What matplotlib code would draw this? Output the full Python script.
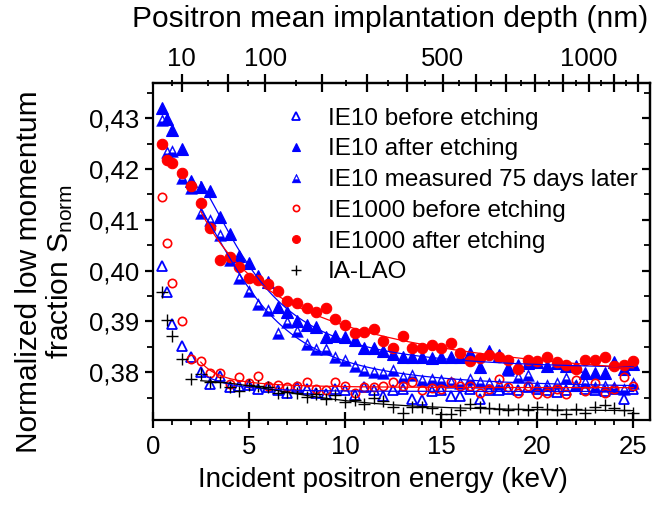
import numpy as np
import matplotlib
matplotlib.use("Agg")
import matplotlib.pyplot as plt
from matplotlib.path import Path
from matplotlib.ticker import FixedLocator, MultipleLocator, FuncFormatter

plt.rcParams['font.family'] = ['Liberation Sans', 'DejaVu Sans']
plt.rcParams['mathtext.fontset'] = 'custom'
plt.rcParams['mathtext.rm'] = 'Liberation Sans'
plt.rcParams['mathtext.it'] = 'Liberation Sans'

energy = [0.5, 0.75, 1.0, 1.5, 2.0, 2.5, 3.0, 3.5, 4.0, 4.5,
          5.0, 5.5, 6.0, 6.5, 7.0, 7.5, 8.0, 8.5, 9.0, 9.5,
          10.0, 10.5, 11.0, 11.5, 12.0, 12.5, 13.0, 13.5, 14.0, 14.5,
          15.0, 15.5, 16.0, 16.5, 17.0, 17.5, 18.0, 18.5, 19.0, 19.5,
          20.0, 20.5, 21.0, 21.5, 22.0, 22.5, 23.0, 23.5, 24.0, 24.5,
          25.0]

ie10_before = [0.4010, 0.3957, 0.3895, 0.3852, 0.3830, 0.3800, 0.3777, 0.3793, 0.3770, 0.3772,
               0.3775, 0.3768, 0.3770, 0.3765, 0.3759, 0.3770, 0.3768, 0.3760, 0.3757, 0.3768,
               0.3765, 0.3755, 0.3770, 0.3765, 0.3753, 0.3766, 0.3768, 0.3747, 0.3745, 0.3764,
               0.3766, 0.3753, 0.3753, 0.3768, 0.3747, 0.3766, 0.3765, 0.3767, 0.3765, 0.3770,
               0.3768, 0.3765, 0.3762, 0.3766, 0.3772, 0.3768, 0.3766, 0.3764, 0.3768, 0.3747,
               0.3768]

ie10_after = [0.4320, 0.4298, 0.4277, 0.4240, 0.4177, 0.4164, 0.4157, 0.4106, 0.4072, 0.4028,
              0.4015, 0.3990, 0.3978, 0.3929, 0.3918, 0.3900, 0.3893, 0.3890, 0.3870, 0.3871,
              0.3870, 0.3864, 0.3847, 0.3847, 0.3841, 0.3836, 0.3831, 0.3831, 0.3831, 0.3829,
              0.3831, 0.3831, 0.3830, 0.3837, 0.3810, 0.3841, 0.3833, 0.3808, 0.3814, 0.3818,
              0.3820, 0.3812, 0.3818, 0.3812, 0.3812, 0.3798, 0.3798, 0.3798, 0.3821, 0.3806,
              0.3816]

ie10_75days = [0.4297, 0.4234, 0.4236, 0.4182, 0.4163, 0.4114, 0.4100, 0.4070, 0.4021, 0.3985,
               0.3960, 0.3935, 0.3923, 0.3877, 0.3898, 0.3881, 0.3855, 0.3846, 0.3846, 0.3831,
               0.3824, 0.3812, 0.3805, 0.3800, 0.3798, 0.3805, 0.3791, 0.3795, 0.3784, 0.3787,
               0.3784, 0.3780, 0.3778, 0.3786, 0.3781, 0.3778, 0.3776, 0.3805, 0.3791, 0.3795,
               0.3773, 0.3775, 0.3778, 0.3788, 0.3775, 0.3780, 0.3770, 0.3773, 0.3770, 0.3768,
               0.3778]

ie1000_before = [0.4144, 0.4054, 0.3976, 0.3901, 0.3826, 0.3822, 0.3799, 0.3799, 0.3777, 0.3790,
                 0.3778, 0.3793, 0.3773, 0.3775, 0.3770, 0.3772, 0.3780, 0.3767, 0.3765, 0.3780,
                 0.3772, 0.3759, 0.3770, 0.3770, 0.3772, 0.3780, 0.3773, 0.3780, 0.3765, 0.3769,
                 0.3767, 0.3781, 0.3773, 0.3772, 0.3760, 0.3767, 0.3787, 0.3770, 0.3760, 0.3772,
                 0.3757, 0.3760, 0.3767, 0.3757, 0.3785, 0.3763, 0.3778, 0.3760, 0.3767, 0.3791,
                 0.3773]

ie1000_after = [0.4249, 0.4218, 0.4211, 0.4192, 0.4167, 0.4134, 0.4083, 0.4020, 0.4027, 0.4008,
                0.3986, 0.3982, 0.3974, 0.3960, 0.3941, 0.3937, 0.3927, 0.3918, 0.3927, 0.3904,
                0.3893, 0.3878, 0.3880, 0.3885, 0.3862, 0.3847, 0.3871, 0.3847, 0.3847, 0.3853,
                0.3847, 0.3857, 0.3837, 0.3822, 0.3829, 0.3833, 0.3831, 0.3824, 0.3806, 0.3824,
                0.3823, 0.3831, 0.3821, 0.3814, 0.3806, 0.3824, 0.3824, 0.3830, 0.3812, 0.3814,
                0.3823]

ia_lao = [0.3957, 0.3903, 0.3871, 0.3826, 0.3787, 0.3796, 0.3781, 0.3781, 0.3770, 0.3763,
          0.3775, 0.3772, 0.3770, 0.3759, 0.3762, 0.3760, 0.3752, 0.3758, 0.3748, 0.3755,
          0.3742, 0.3745, 0.3738, 0.3750, 0.3744, 0.3732, 0.3719, 0.3732, 0.3732, 0.3729,
          0.3718, 0.3718, 0.3726, 0.3738, 0.3732, 0.3729, 0.3728, 0.3726, 0.3728, 0.3725,
          0.3732, 0.3728, 0.3725, 0.3718, 0.3728, 0.3720, 0.3732, 0.3736, 0.3730, 0.3726,
          0.3720]

labels = ["IE10 before etching", "IE10 after etching", "IE10 measured 75 days later",
          "IE1000 before etching", "IE1000 after etching", "IA-LAO"]

depth_ticks = [10, 50, 100, 200, 300, 400, 500, 600, 700, 800, 900, 1000, 1100, 1200]
depth_labels = ["10", "", "100", "", "", "", "500", "", "", "", "", "1000", "", ""]
depth_minor = [5, 30, 75, 150, 250, 350, 450, 550, 650, 750, 850, 950, 1050, 1150]

BLUE = '#0000FF'
RED = '#FF0000'

# triangle with white upper part and a filled bottom band
half_tri = Path(
    [(0, 1), (-1, -1), (1, -1), (0, 1),
     (0, 0.64), (0.43, -0.22), (-0.43, -0.22), (0, 0.64)],
    [Path.MOVETO, Path.LINETO, Path.LINETO, Path.CLOSEPOLY,
     Path.MOVETO, Path.LINETO, Path.LINETO, Path.CLOSEPOLY])


def diffusion_fit(E, S, emin=2.5):
    """Least-squares fit S = Sb + A/(1+(E/E0)^n) on E >= emin."""
    E = np.asarray(E); S = np.asarray(S)
    m = E >= emin
    e, s = E[m], S[m]
    E0g, ng = np.meshgrid(np.linspace(0.5, 25, 246), np.linspace(0.5, 6, 56))
    E0g = E0g.ravel(); ng = ng.ravel()
    F = 1.0 / (1.0 + (e[None, :] / E0g[:, None]) ** ng[:, None])
    fm = F.mean(axis=1, keepdims=True)
    sm = s.mean()
    cov = ((F - fm) * (s - sm)).sum(axis=1)
    var = ((F - fm) ** 2).sum(axis=1) + 1e-30
    A = cov / var
    B = sm - A * fm[:, 0]
    pred = B[:, None] + A[:, None] * F
    res = ((pred - s) ** 2).sum(axis=1)
    k = np.argmin(res)
    Ef = np.linspace(emin, 25, 300)
    return Ef, B[k] + A[k] / (1.0 + (Ef / E0g[k]) ** ng[k])


fig = plt.figure(figsize=(6.61, 5.05), dpi=100)
ax = fig.add_axes([0.231, 0.1683, 0.7523, 0.668])

E = np.array(energy)
series = [
    (ie10_before, dict(marker='^', ms=7, mfc='none', mec=BLUE, mew=1.3, color=BLUE), BLUE),
    (ie10_after, dict(marker='^', ms=8, mfc=BLUE, mec=BLUE, mew=0.8, color=BLUE), BLUE),
    (ie10_75days, dict(marker=half_tri, ms=8.5, mfc=BLUE, mec=BLUE, mew=0.3, color=BLUE), BLUE),
    (ie1000_before, dict(marker='o', ms=6, mfc='none', mec=RED, mew=1.2, color=RED), RED),
    (ie1000_after, dict(marker='o', ms=7.5, mfc=RED, mec=RED, mew=0.8, color=RED), RED),
    (ia_lao, dict(marker='+', ms=9, mec='black', mew=1.0, color='black'), 'black'),
]

for (vals, style, col), lab in zip(series, labels):
    ax.plot(E, vals, linestyle='none', label=lab, **style)
for (vals, style, col) in series:
    ef, sf = diffusion_fit(E, vals)
    ax.plot(ef, sf, color=col, lw=0.9)

ax.set_xlim(0, 25.86)
ax.set_ylim(0.3706, 0.4370)

ax.xaxis.set_major_locator(MultipleLocator(5))
ax.xaxis.set_minor_locator(MultipleLocator(1))
ax.yaxis.set_major_locator(MultipleLocator(0.01))
ax.yaxis.set_minor_locator(MultipleLocator(0.005))
ax.yaxis.set_major_formatter(FuncFormatter(lambda v, p: f"{v:.2f}".replace('.', ',')))

for sp in ax.spines.values():
    sp.set_linewidth(1.6)

ax.tick_params(axis='x', which='major', direction='inout', length=11, width=1.6,
               labelsize=18.5, pad=5, top=False)
ax.tick_params(axis='x', which='minor', direction='out', length=3.5, width=1.3, top=False)
ax.tick_params(axis='y', which='major', direction='out', length=6, width=1.6,
               labelsize=18.5, pad=4, right=False)
ax.tick_params(axis='y', which='minor', direction='out', length=4, width=1.3, right=False)

# right mirror ticks (inward)
rax = ax.secondary_yaxis('right')
rax.yaxis.set_major_locator(MultipleLocator(0.01))
rax.yaxis.set_minor_locator(MultipleLocator(0.005))
rax.tick_params(which='major', direction='in', length=6, width=1.6, labelright=False)
rax.tick_params(which='minor', direction='in', length=4, width=1.3)
rax.spines['right'].set_linewidth(1.6)

# top depth axis
A_DEPTH, N_DEPTH = 4.96, 1.7
def e2z(x):
    return A_DEPTH * np.power(np.clip(x, 0, None), N_DEPTH)
def z2e(z):
    return np.power(np.clip(z, 0, None) / A_DEPTH, 1.0 / N_DEPTH)

tax = ax.secondary_xaxis('top', functions=(e2z, z2e))
tax.xaxis.set_major_locator(FixedLocator(depth_ticks))
tax.xaxis.set_minor_locator(FixedLocator(depth_minor))
tax.set_xticklabels(depth_labels)
tax.tick_params(which='major', direction='inout', length=13, width=1.6, labelsize=18.5, pad=2)
tax.tick_params(which='minor', direction='inout', length=4, width=1.3)
tax.spines['top'].set_linewidth(1.6)
tax.set_xlabel("Positron mean implantation depth (nm)", fontsize=21.5, labelpad=14)
tax.xaxis.label.set_x(0.477)

ax.set_xlabel("Incident positron energy (keV)", fontsize=20, labelpad=6)
ax.xaxis.label.set_x(0.463)

fig.text(45 / 661, 1 - 272 / 505, "Normalized low momentum\nfraction S$_{\\mathregular{norm}}$",
         rotation=90, ha='center', va='center', multialignment='center', fontsize=21.5,
         linespacing=1.05)

leg = ax.legend(loc='upper left', bbox_to_anchor=(0.245, 0.955), frameon=False,
                fontsize=17.5, markerscale=0.75, handlelength=1.0, handletextpad=0.8,
                labelspacing=0.36, borderaxespad=0.0)

fig.savefig("out.png", dpi=100)
